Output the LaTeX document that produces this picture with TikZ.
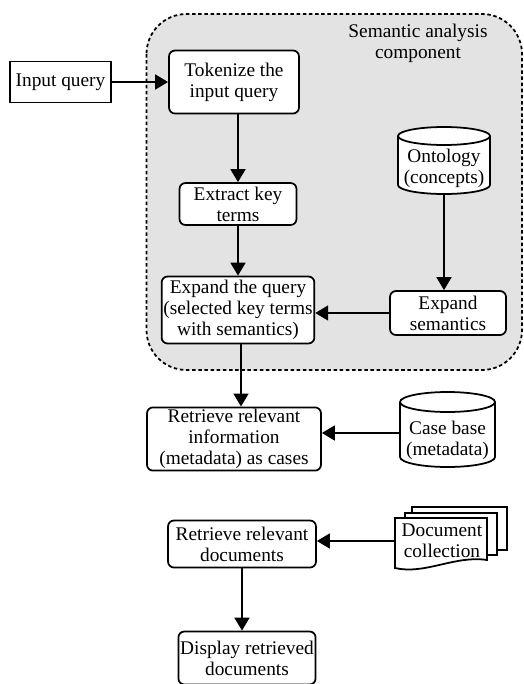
\documentclass[tikz,border=0pt]{standalone}
\usepackage{fontspec}
\setmainfont{Liberation Serif}
\usetikzlibrary{arrows.meta,calc}
\tikzset{
  procbox/.style={draw, line width=1pt, rounded corners=0.12cm, fill=white, align=center, inner sep=1pt, font=\fontsize{11}{12}\selectfont},
  plain/.style={align=center, inner sep=1pt, font=\fontsize{11}{12}\selectfont},
  arr/.style={-{Triangle[length=0.26cm,width=0.3cm]}, line width=1pt},
  sheet/.style={draw, line width=1pt, fill=white}
}
\begin{document}
\begin{tikzpicture}
\useasboundingbox (0,0) rectangle (10.48cm,-13.68cm);
\draw[dash pattern=on 2pt off 1.5pt, line width=1pt, fill=black!11, rounded corners=0.8cm] (2.93cm,-0.28cm) rectangle (10.44cm,-7.4cm);
\node[plain] (title) at (8.36cm,-0.87cm) {Semantic analysis\\component};
\node[procbox, rounded corners=0pt, minimum width=2.02cm, minimum height=0.82cm] (input) at (1.21cm,-1.64cm) {Input query};
\node[procbox, minimum width=2.6cm, minimum height=1.26cm] (token) at (4.68cm,-1.64cm) {Tokenize the\\input query};
\node[procbox, minimum width=2.34cm, minimum height=0.84cm] (extract) at (4.76cm,-4.08cm) {Extract key\\terms};
\node[procbox, minimum width=3.02cm, minimum height=1.34cm] (expq) at (4.76cm,-6.2cm) {Expand the query\\(selected key terms\\with semantics)};
\draw[sheet] (7.96cm,-2.72cm) -- (7.96cm,-3.7cm) arc (180:360:0.92cm and 0.18cm) -- (9.8cm,-2.72cm);
\draw[sheet] (8.88cm,-2.72cm) ellipse (0.92cm and 0.18cm);
\node[plain, minimum width=1.84cm, minimum height=1.02cm] (onto) at (8.88cm,-3.37cm) {Ontology\\(concepts)};
\node[procbox, minimum width=2.32cm, minimum height=0.88cm] (exps) at (8.96cm,-6.26cm) {Expand\\semantics};
\node[procbox, minimum width=3.48cm, minimum height=1.24cm] (info) at (4.68cm,-8.78cm) {Retrieve relevant\\information\\(metadata) as cases};
\draw[sheet] (8.0cm,-8.04cm) -- (8.0cm,-9.14cm) arc (180:360:0.95cm and 0.2cm) -- (9.9cm,-8.04cm);
\draw[sheet] (8.95cm,-8.04cm) ellipse (0.95cm and 0.2cm);
\node[plain, minimum width=1.9cm, minimum height=1.0cm] (cases) at (8.95cm,-8.8cm) {Case base\\(metadata)};
\coordinate (casein) at (8.0cm,-8.66cm);
\node[procbox, minimum width=2.96cm, minimum height=0.94cm] (docs) at (4.84cm,-10.88cm) {Retrieve relevant\\documents};
\draw[sheet] (8.24cm,-10.14cm) rectangle (10.14cm,-11.0cm);
\draw[sheet] (8.1cm,-10.26cm) rectangle (9.94cm,-11.1cm);
\draw[sheet] (7.9cm,-10.36cm) -- (9.74cm,-10.36cm) -- (9.74cm,-11.2cm) .. controls (9.1cm,-11.1cm) and (8.5cm,-11.5cm) .. (7.9cm,-11.36cm) -- cycle;
\node[plain, minimum width=1.84cm] (coll) at (8.84cm,-10.82cm) {Document\\collection};
\node[procbox, minimum width=2.72cm, minimum height=1.06cm] (show) at (4.94cm,-13.16cm) {Display retrieved\\documents};
\draw[arr] (input) -- (token);
\draw[arr] (token.south -| extract.north) -- (extract.north);
\draw[arr] (extract.south) -- (extract.south |- expq.north);
\draw[arr] (onto.south) -- (onto.south |- exps.north);
\draw[arr] (exps.west) -- (expq.east |- exps.west);
\draw[arr] (expq.south) ++(0.06cm,0) coordinate (q) -- (q |- info.north);
\draw[arr] (casein) -- (info.east |- casein);
\draw[arr] (coll.west) -- (docs.east |- coll.west);
\draw[arr] (docs.south) -- (docs.south |- show.north);
\end{tikzpicture}
\end{document}
